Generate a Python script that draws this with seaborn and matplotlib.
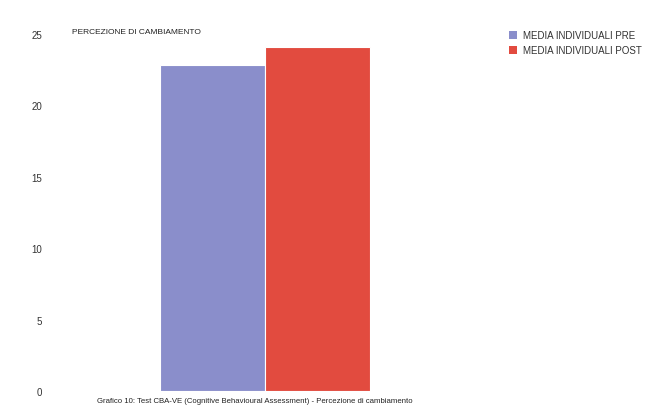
import matplotlib
matplotlib.use("Agg")
import matplotlib.pyplot as plt
import seaborn as sns
import pandas as pd

categories = ["PERCEZIONE DI CAMBIAMENTO"]
series = ["MEDIA INDIVIDUALI PRE", "MEDIA INDIVIDUALI POST"]
pre_values = [22.8]
post_values = [24.1]
y_ticks = [0, 5, 10, 15, 20, 25]
colors = ["#8a8ecb", "#e24b3f"]

df = pd.DataFrame({
    "cat": categories * 2,
    "serie": [series[0]] * len(pre_values) + [series[1]] * len(post_values),
    "val": pre_values + post_values,
})

sns.set_style("white")
plt.rcParams["font.family"] = ["Liberation Sans", "DejaVu Sans"]

fig = plt.figure(figsize=(6.45, 4.06), dpi=100)
ax = fig.add_axes([0.078, 0.034, 0.666, 0.880])
sns.barplot(data=df, x="cat", y="val", hue="serie", palette=colors,
            width=0.49, ax=ax, legend=False, edgecolor="white", linewidth=0.8,
            saturation=1)
ax.set_ylim(0, 25)
ax.set_xlim(-0.5, 0.5)
ax.set_yticks(y_ticks)
ax.set_yticklabels([str(t) for t in y_ticks], fontsize=7, color="#333333")
ax.tick_params(axis="y", length=2, color="#bbbbbb", pad=4)
ax.set_xticks([])
ax.set_xlabel("")
ax.set_ylabel("")
for s in ax.spines.values():
    s.set_visible(False)

fig.text(0.112, 0.912, "PERCEZIONE DI CAMBIAMENTO", fontsize=6, color="#222222",
         va="bottom", ha="left")

# legend
from matplotlib.patches import Patch
handles = [Patch(facecolor=c, edgecolor="none") for c in colors]
fig.legend(handles, series, loc="upper left", bbox_to_anchor=(0.775, 0.945),
           frameon=False, fontsize=7, handlelength=0.9, handleheight=0.9,
           handletextpad=0.6, labelspacing=0.55, labelcolor="#333333")

fig.text(0.395, 0.003,
         "Grafico 10: Test CBA-VE (Cognitive Behavioural Assessment) - Percezione di cambiamento",
         fontsize=5.6, color="#222222", ha="center", va="bottom")

fig.savefig("out.png", dpi=100)
